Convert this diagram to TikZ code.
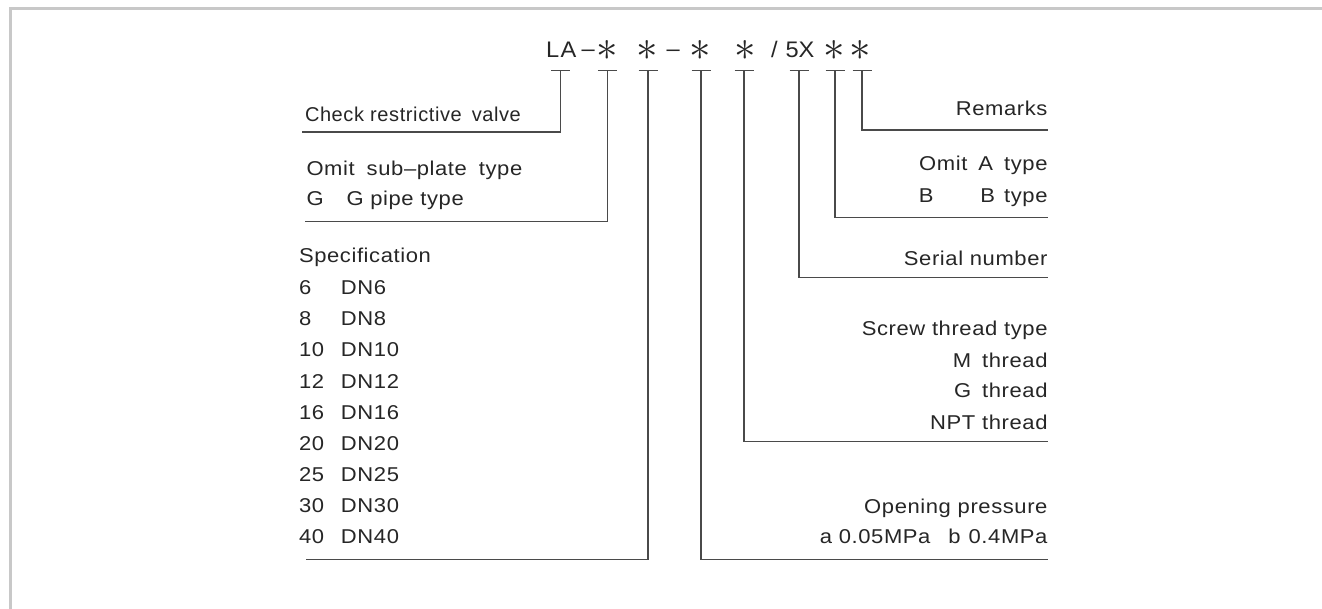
\documentclass[tikz,border=0pt]{standalone}
\usepackage{fontspec}
\setmainfont{Liberation Sans}
\usetikzlibrary{calc}
\definecolor{txt}{HTML}{262626}
\definecolor{ln}{HTML}{4A4A4A}
\definecolor{framec}{HTML}{C8C8C8}
\begin{document}
\begin{tikzpicture}[x=1pt,y=-1pt,
  lbl/.style={inner sep=0pt, outer sep=0pt, text=txt,
    font=\fontsize{20}{24}\selectfont\addfontfeature{FakeStretch=1.1,LetterSpace=3}},
  lw/.style={lbl, anchor=base west},
  le/.style={lbl, anchor=base east},
  ttl/.style={inner sep=0pt, outer sep=0pt, text=txt,
    font=\fontsize{22.5}{26}\selectfont\addfontfeature{FakeStretch=1.05}},
  star/.style={inner sep=0pt, outer sep=0pt, text=txt, anchor=center},
  conn/.style={draw=ln, line width=1.2pt},
  tick/.style={draw=ln, line width=1.2pt},
]
\newcommand{\codestar}{\scalebox{4.3}{$\ast$}}
\useasboundingbox (0,0) rectangle (1322,609);
\fill[white] (0,0) rectangle (1322,609);
\draw[framec, line width=2.6pt] (10.7,609) -- (10.7,8.7) -- (1322,8.7);

% title
\node[ttl, anchor=base west] (LA) at (546,58) {\addfontfeature{LetterSpace=7}LA};
\node[ttl, anchor=center] (d1) at (588.3,53.5) {–};
\node[star] (s1) at (607.5,51) {\codestar};
\node[star] (s2) at (647.5,51) {\codestar};
\node[ttl, anchor=center] (d2) at (673.3,53.5) {–};
\node[star] (s3) at (700.5,51) {\codestar};
\node[star] (s4) at (745.5,51) {\codestar};
\node[ttl, anchor=base west] (sl) at (771,58) {/};
\node[ttl, anchor=base west] (fx) at (785.5,58) {5X};
\node[star] (s5) at (834,51) {\codestar};
\node[star] (s6) at (860.5,51) {\codestar};

% left labels
\node[lw, font=\fontsize{20}{24}\selectfont\addfontfeature{FakeStretch=1.0,LetterSpace=3}] (chk) at (305,121.5) {Check restrictive\hspace{10pt}valve};
\node[lw] (omit) at (306.5,175.5) {Omit\hspace{12pt}sub–plate\hspace{12pt}type};
\node[lw] (gp) at (306.5,205.5) {\makebox[40pt][l]{G}G pipe type};
\node[lw] (spec) at (299,262.5) {Specification};
\foreach \n/\d [count=\k from 0] in {6/DN6,8/DN8,10/DN10,12/DN12,16/DN16,20/DN20,25/DN25,30/DN30,40/DN40}{
  \node[lw] (row\k) at (299,294.7+31.12*\k) {\makebox[42pt][l]{\n}\d};
}

% right labels
\node[le] (rem) at (1047.5,116) {Remarks};
\node[le] (omA) at (1047.5,171) {Omit\hspace{11pt}A\hspace{11pt}type};
\node[le] (bty) at (1047.5,202.3) {\makebox[61.7pt][l]{B}B\hspace{9pt}type};
\node[le] (ser) at (1047.5,265.5) {Serial number};
\node[le] (scr) at (1047.5,336) {Screw thread type};
\node[le] (mth) at (1047.5,367.3) {M\hspace{11pt}thread};
\node[le] (gth) at (1047.5,397.7) {G\hspace{11pt}thread};
\node[le] (npt) at (1047.5,429) {NPT thread};
\node[le] (opn) at (1047.5,513.5) {Opening pressure};
\node[le] (ab) at (1047.5,543.5) {a 0.05MPa\hspace{18pt}b\hspace{8pt}0.4MPa};

% tick tops
\coordinate (tLA) at (560.5,70.7);
\coordinate (t1) at (607.3,70.7);
\coordinate (t2) at (648,70.7);
\coordinate (t3) at (701,70.7);
\coordinate (t4) at (744,70.7);
\coordinate (t5) at (799,70.7);
\coordinate (t6) at (835,70.7);
\coordinate (t7) at (862,70.7);
% line ends
\coordinate (eLA) at (302,132);
\coordinate (e1) at (305,221.5);
\coordinate (e2) at (306,559.3);
\coordinate (e3) at (1048,559.3);
\coordinate (e4) at (1048,441.7);
\coordinate (e5) at (1048,277.7);
\coordinate (e6) at (1048,217.7);
\coordinate (e7) at (1048,130);

\foreach \t in {tLA,t1,t2,t3,t4,t5,t6,t7}{
  \draw[tick] ($(\t)+(-9.5,0)$) -- ($(\t)+(9.5,0)$);
}
\draw[conn] (tLA) |- (eLA);
\draw[conn] (t1) |- (e1);
\draw[conn] (t2) |- (e2);
\draw[conn] (t3) |- (e3);
\draw[conn] (t4) |- (e4);
\draw[conn] (t5) |- (e5);
\draw[conn] (t6) |- (e6);
\draw[conn] (t7) |- (e7);
\end{tikzpicture}
\end{document}
